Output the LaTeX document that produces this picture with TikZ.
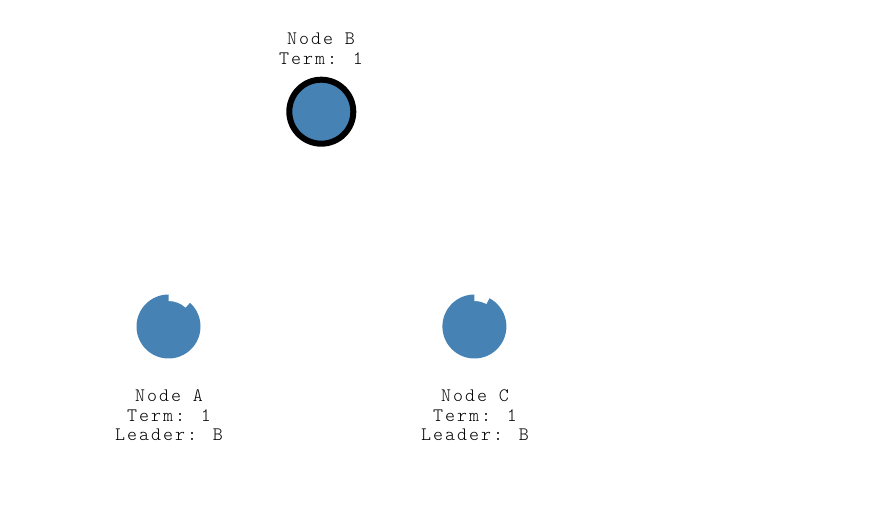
\documentclass[tikz,border=0pt]{standalone}
\usepackage{fontspec}
\newfontfamily\lbfont{lmmonolt10-regular.otf}[LetterSpace=10.6]
\definecolor{steel}{HTML}{4682B4}
\begin{document}
\begin{tikzpicture}[x=1pt,y=1pt,
  raftnode/.style={circle,fill=steel,minimum size=64pt,inner sep=0pt},
  leadernode/.style={raftnode,draw=black,line width=6pt},
  lbl/.style={anchor=base,inner sep=0pt,font=\lbfont\fontsize{19}{20}\selectfont,text=black}]
\useasboundingbox (0,0) rectangle (876,519);
% Node B (leader)
\node[leadernode] (B) at (321.3,407.3) {};
\node[lbl] (B1) at (321,474.3) {Node B};
\node[lbl] (B2) at (321,454.3) {Term: 1};
% Node A
\node[raftnode] (A) at (168.5,192.5) {};
\fill[white] (A.center) ++(90:25.5) arc[start angle=90,end angle=48,radius=25.5]
  -- ++(48:9) arc[start angle=48,end angle=90,radius=34.5] -- cycle;
\node[lbl] (A1) at (169,117.5) {Node A};
\node[lbl] (A2) at (169,97.7) {Term: 1};
\node[lbl] (A3) at (169,78) {Leader: B};
% Node C
\node[raftnode] (C) at (474.4,192.5) {};
\fill[white] (C.center) ++(90:25.5) arc[start angle=90,end angle=62,radius=25.5]
  -- ++(62:9) arc[start angle=62,end angle=90,radius=34.5] -- cycle;
\node[lbl] (C1) at (475,117.5) {Node C};
\node[lbl] (C2) at (475,97.7) {Term: 1};
\node[lbl] (C3) at (475,78) {Leader: B};
\end{tikzpicture}
\end{document}
